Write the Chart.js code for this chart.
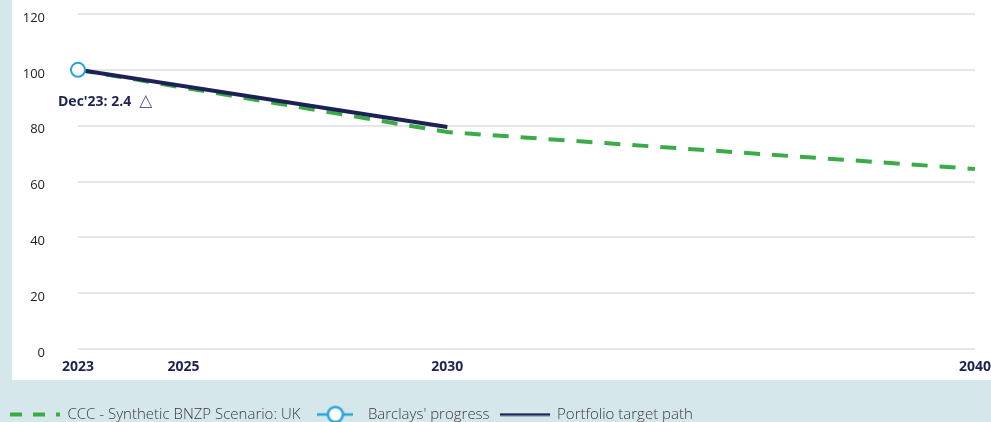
<!DOCTYPE html>
<html>
<head>
<meta charset="utf-8">
<script src="https://cdn.jsdelivr.net/npm/chart.js@4.4.1/dist/chart.umd.min.js"></script>
<style>
  html, body { margin: 0; padding: 0; background: #d6e7eb; }
  #wrap { width: 991px; height: 422px; position: relative; }
</style>
</head>
<body>
<div id="wrap"><canvas id="chart"></canvas></div>
<script>
// data
const scenarioYears = [2023, 2030, 2040];
const scenarioUK = [100, 77.7, 64.5];
const progressYears = [2023];
const progress = [100];
const targetYears = [2023, 2030];
const targetPath = [100, 79.5];
const xTicks = [2023, 2025, 2030, 2040];
const seriesNames = ['CCC - Synthetic BNZP Scenario: UK', "Barclays' progress", 'Portfolio target path'];
const progressNote = "Dec'23: 2.4";

const NAVY = '#1d2256';
const GREEN = '#3aab47';
const BLUE = '#26a3de';
const FONT = '"Open Sans", "Noto Sans", sans-serif';

const pts = (xs, ys) => xs.map((x, i) => ({ x, y: ys[i] }));

function makeIcon(w, h, draw) {
  const c = document.createElement('canvas');
  c.width = w; c.height = h;
  draw(c.getContext('2d'));
  return c;
}
const dashIcon = makeIcon(50, 6, g => {
  g.strokeStyle = GREEN; g.lineWidth = 4; g.setLineDash([12, 11]);
  g.beginPath(); g.moveTo(0, 3); g.lineTo(50, 3); g.stroke();
});
const progressIcon = makeIcon(36, 20, g => {
  g.strokeStyle = BLUE; g.lineWidth = 2.5;
  g.beginPath(); g.moveTo(0, 10); g.lineTo(36, 10); g.stroke();
  g.beginPath(); g.arc(18, 10, 7.5, 0, Math.PI * 2);
  g.fillStyle = '#fff'; g.fill(); g.stroke();
});
const targetIcon = makeIcon(50, 4, g => {
  g.strokeStyle = NAVY; g.lineWidth = 2.5;
  g.beginPath(); g.moveTo(0, 2); g.lineTo(50, 2); g.stroke();
});
const legendIcons = [dashIcon, progressIcon, targetIcon];

// white card behind the plot
const panel = {
  id: 'panel',
  beforeDraw(chart) {
    const { ctx, chartArea } = chart;
    ctx.save();
    ctx.fillStyle = '#d6e7eb';
    ctx.fillRect(0, 0, chart.width, chart.height);
    ctx.fillStyle = '#ffffff';
    ctx.fillRect(12, 0, chart.width - 12, chartArea.bottom + 31);
    ctx.restore();
  }
};

// label under the progress point
const note = {
  id: 'note',
  afterDatasetsDraw(chart) {
    const { ctx, scales: { x, y } } = chart;
    const px = x.getPixelForValue(progressYears[0]);
    const py = y.getPixelForValue(progress[0]);
    const tx = px - 20, ty = py + 32;
    ctx.save();
    ctx.textBaseline = 'middle';
    ctx.font = 'bold 14px ' + FONT;
    ctx.fillStyle = NAVY;
    ctx.fillText(progressNote, tx, ty);
    const w = ctx.measureText(progressNote).width;
    ctx.font = '17px "DejaVu Sans"';
    ctx.fillStyle = '#5a5f80';
    ctx.fillText('\u25B3', tx + w + 8, ty);
    ctx.restore();
  }
};

new Chart(document.getElementById('chart'), {
  type: 'line',
  data: {
    datasets: [
      {
        label: seriesNames[0],
        data: pts(scenarioYears, scenarioUK),
        borderColor: GREEN,
        borderWidth: 4,
        borderDash: [16, 12],
        pointRadius: 0,
        order: 2
      },
      {
        label: seriesNames[1],
        data: pts(progressYears, progress),
        borderColor: BLUE,
        backgroundColor: '#fff',
        borderWidth: 2,
        pointRadius: 7,
        pointBorderWidth: 2,
        showLine: false,
        clip: false,
        order: 0
      },
      {
        label: seriesNames[2],
        data: pts(targetYears, targetPath),
        borderColor: NAVY,
        borderWidth: 4,
        pointRadius: 0,
        order: 1
      }
    ]
  },
  options: {
    responsive: true,
    maintainAspectRatio: false,
    animation: false,
    layout: { padding: { left: 0, top: 14, right: 0, bottom: -10 } },
    plugins: {
      tooltip: { enabled: false },
      legend: {
        position: 'bottom',
        align: 'start',
        labels: {
          usePointStyle: true,
          pointStyleWidth: 50,
          boxHeight: 14,
          padding: 10,
          color: '#3a3a3a',
          font: { family: FONT, size: 15, weight: '300' },
          generateLabels: () => seriesNames.map((text, i) => ({
            text,
            pointStyle: legendIcons[i],
            fontColor: '#3a3a3a',
            hidden: false,
            datasetIndex: i,
            lineWidth: 0
          }))
        }
      }
    },
    scales: {
      x: {
        type: 'linear',
        min: 2023,
        max: 2040,
        afterBuildTicks: axis => { axis.ticks = xTicks.map(v => ({ value: v })); },
        afterFit: axis => { axis.height = 48; },
        grid: { display: false, drawTicks: true, tickLength: 10 },
        border: { display: false },
        ticks: {
          autoSkip: false,
          maxRotation: 0,
          padding: 0,
          color: NAVY,
          font: { family: FONT, size: 14, weight: 'bold' },
          callback: v => String(v)
        }
      },
      y: {
        min: 0,
        max: 120,
        afterFit: axis => { axis.width = 78; },
        grid: { color: '#e6e6e6', lineWidth: 2, drawTicks: true, tickLength: 30, tickColor: 'rgba(0,0,0,0)' },
        border: { display: false },
        ticks: {
          stepSize: 20,
          padding: 3,
          labelOffset: 4,
          color: '#222',
          font: { family: FONT, size: 13 }
        }
      }
    }
  },
  plugins: [panel, note]
});
</script>
</body>
</html>
